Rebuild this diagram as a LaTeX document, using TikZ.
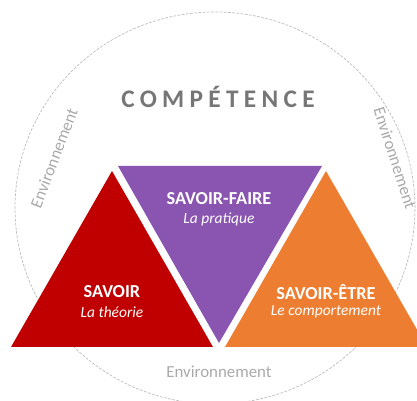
\documentclass[tikz,border=0pt]{standalone}
\usepackage{fontspec}
\setmainfont{Carlito}
\usetikzlibrary{positioning}

\definecolor{savoirred}{HTML}{C00000}
\definecolor{fairepurple}{HTML}{8955B0}
\definecolor{etreorange}{HTML}{ED7D31}
\definecolor{titlegray}{HTML}{767676}
\definecolor{envgray}{HTML}{AAAAAA}
\definecolor{ringgray}{HTML}{BDBDBD}

\tikzset{
  title/.style={text=white, font=\fontsize{13}{15}\selectfont\bfseries, inner sep=0pt},
  subtitle/.style={text=white, font=\fontsize{11}{13}\selectfont\itshape, inner sep=0pt},
  envlabel/.style={text=envgray, font=\fontsize{12}{14}\selectfont, inner sep=0pt}
}

\begin{document}
\begin{tikzpicture}[x=0.025cm, y=0.025cm]
    \useasboundingbox (0,0) rectangle (417,401);
    \clip (0,0) rectangle (417,401);

    % Environment ring
    \draw[ringgray, line width=0.5pt, dash pattern=on 2pt off 1pt] (215,193) ellipse [x radius=200, y radius=196];

    % Define vertices
    \coordinate (S1) at (11,54);
    \coordinate (S2) at (213,54);
    \coordinate (S3) at (112,230);
    \coordinate (F1) at (118,235);
    \coordinate (F2) at (322,235);
    \coordinate (F3) at (219,58);
    \coordinate (E1) at (225,54);
    \coordinate (E2) at (427,54);
    \coordinate (E3) at (326,230);

    % Draw triangles
    \fill[savoirred] (S1) -- (S2) -- (S3) -- cycle;
    \fill[fairepurple] (F1) -- (F2) -- (F3) -- cycle;
    \fill[etreorange] (E1) -- (E2) -- (E3) -- cycle;

    % Title
    \node[text=titlegray, inner sep=0pt,
          font=\fontsize{18}{21}\selectfont\bfseries\addfontfeatures{LetterSpace=21}]
          (competence) at (218,304) {COMPÉTENCE};

    % Label triangles
    \node[title] (savoir) at (112,109) {SAVOIR};
    \node[subtitle] (theorie) at (112,89) {La théorie};
    \node[title] (faire) at (219,202) {SAVOIR-FAIRE};
    \node[subtitle] (pratique) at (219,182) {La pratique};
    \node[title] (etre) at (326,109) {SAVOIR-ÊTRE};
    \node[subtitle] (comportement) at (326,89) {Le comportement};

    % Environment labels
    \node[envlabel] (envbottom) at (219,29) {Environnement};
    \node[envlabel, rotate=69] (envleft) at (54,243) {Environnement};
    \node[envlabel, rotate=-72] (envright) at (395,243) {Environnement};
\end{tikzpicture}
\end{document}
